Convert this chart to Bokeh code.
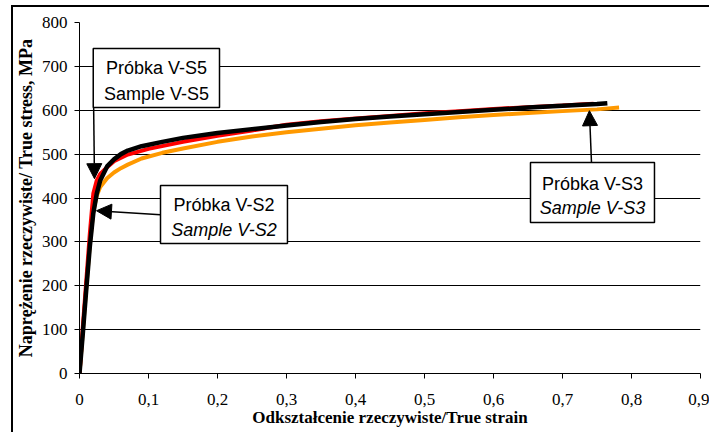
from bokeh.plotting import figure
from bokeh.models import Range1d, FixedTicker, BoxAnnotation, Label, Arrow, NormalHead, InlineStyleSheet
from bokeh.embed import file_html
from bokeh.resources import INLINE

# ---- data ----
strain_s3 = [0, 0.005, 0.01, 0.015, 0.02, 0.025, 0.03, 0.04, 0.05, 0.06, 0.07, 0.09, 0.12, 0.15,
             0.2, 0.25, 0.3, 0.35, 0.4, 0.45, 0.5, 0.55, 0.6, 0.65, 0.7, 0.75, 0.782]
stress_s3 = [0, 100, 200, 295, 370, 405, 425, 445, 458, 468, 476, 490, 503, 513,
             528, 540, 550, 558, 566, 572, 578, 584, 589, 594, 598, 602, 606]

strain_s5 = [0, 0.005, 0.01, 0.015, 0.02, 0.025, 0.03, 0.04, 0.05, 0.07, 0.1, 0.15,
             0.2, 0.25, 0.3, 0.35, 0.4, 0.45, 0.5, 0.55, 0.6, 0.65, 0.7, 0.745]
stress_s5 = [0, 110, 215, 320, 410, 440, 455, 470, 484, 499, 512, 528,
             542, 554, 567, 575, 581, 587, 593, 598, 603, 607, 611, 615]

strain_s2 = [0, 0.005, 0.01, 0.015, 0.02, 0.025, 0.03, 0.04, 0.05, 0.06, 0.07, 0.09, 0.12, 0.15,
             0.2, 0.25, 0.3, 0.35, 0.4, 0.45, 0.5, 0.55, 0.6, 0.65, 0.7, 0.75, 0.765]
stress_s2 = [0, 95, 195, 290, 365, 410, 440, 472, 488, 500, 508, 518, 528, 537,
             548, 557, 565, 573, 580, 586, 591, 596, 601, 606, 610, 614, 616]

x_ticks = [0, 0.1, 0.2, 0.3, 0.4, 0.5, 0.6, 0.7, 0.8, 0.9]
x_tick_labels = ["0", "0,1", "0,2", "0,3", "0,4", "0,5", "0,6", "0,7", "0,8", "0,9"]
y_ticks = [0, 100, 200, 300, 400, 500, 600, 700, 800]

x_title = "Odkształcenie rzeczywiste/True strain"
y_title = "Naprężenie rzeczywiste/ True stress, MPa"

serif = "Liberation Serif"
sans = "Liberation Sans"

border_css = InlineStyleSheet(css="""
:host::after {
  content: "";
  position: absolute;
  left: 11px;
  top: 5px;
  width: 698px;
  height: 427px;
  border-left: 2px solid black;
  border-top: 2px solid black;
  pointer-events: none;
  box-sizing: border-box;
}
""")

p = figure(width=709, height=432, output_backend="svg", toolbar_location=None,
           x_range=Range1d(0, 0.9), y_range=Range1d(0, 800),
           min_border_left=79, min_border_right=9, min_border_top=22, min_border_bottom=59,
           stylesheets=[border_css])
p.outline_line_color = None
p.background_fill_color = "white"
p.border_fill_color = "white"

# axes
for ax in (p.xaxis[0], p.yaxis[0]):
    ax.axis_line_color = "black"
    ax.axis_line_width = 1
    ax.major_tick_line_color = "black"
    ax.major_tick_out = 5
    ax.major_tick_in = 0
    ax.minor_tick_line_color = None
    ax.major_label_text_font = serif
    ax.major_label_text_font_size = "17px"
    ax.major_label_text_color = "black"
    ax.axis_label_text_font = serif
    ax.axis_label_text_font_style = "bold"
    ax.axis_label_text_color = "black"

p.xaxis.ticker = FixedTicker(ticks=x_ticks)
p.xaxis.major_label_overrides = dict(zip(x_ticks, x_tick_labels))
p.xaxis.major_label_standoff = 15
p.xaxis.axis_label = x_title
p.xaxis.axis_label_text_font_size = "17px"
p.xaxis.axis_label_standoff = 0

p.yaxis.ticker = FixedTicker(ticks=y_ticks)
p.yaxis.major_label_standoff = 7
p.yaxis.axis_label = y_title
p.yaxis.axis_label_text_font_size = "18px"
p.yaxis.axis_label_standoff = 3

p.xgrid.grid_line_color = None
p.ygrid.ticker = FixedTicker(ticks=y_ticks[1:])
p.ygrid.grid_line_color = "black"
p.ygrid.grid_line_width = 1

# curves
p.line(strain_s3, stress_s3, line_color="#FF9900", line_width=4)
p.line(strain_s5, stress_s5, line_color="#FF0000", line_width=4)
p.line(strain_s2, stress_s2, line_color="black", line_width=4.5)

# annotation boxes
def box(l, r, t, b):
    p.add_layout(BoxAnnotation(left=l, right=r, top=t, bottom=b, fill_color="white",
                               fill_alpha=1, line_color="black", line_width=1.5,
                               line_alpha=1))

def lab(x, y, text, style="normal"):
    p.add_layout(Label(x=x, y=y, text=text, text_align="center", text_baseline="alphabetic",
                       text_font=sans, text_font_size="18px", text_font_style=style,
                       text_color="black"))

def arrow(x0, y0, x1, y1):
    p.add_layout(Arrow(end=NormalHead(size=15, fill_color="black", line_color="black"),
                       x_start=x0, y_start=y0, x_end=x1, y_end=y1,
                       line_color="black", line_width=1.5))

# V-S5
box(0.0199, 0.2029, 740.7, 606.3)
lab(0.1115, 696, "Próbka V-S5")
lab(0.1115, 638, "Sample V-S5")
arrow(0.0205, 606, 0.0217, 444)

# V-S2
box(0.1174, 0.3014, 428.5, 296.3)
lab(0.2094, 383, "Próbka V-S2")
lab(0.2094, 328, "Sample V-S2", "italic")
arrow(0.1174, 362, 0.0246, 371)

# V-S3
box(0.6536, 0.8333, 480.9, 344.2)
lab(0.7435, 433, "Próbka V-S3")
lab(0.7435, 378, "Sample V-S3", "italic")
arrow(0.742, 481, 0.739, 599)

open("out.html", "w").write(file_html(p, INLINE))
